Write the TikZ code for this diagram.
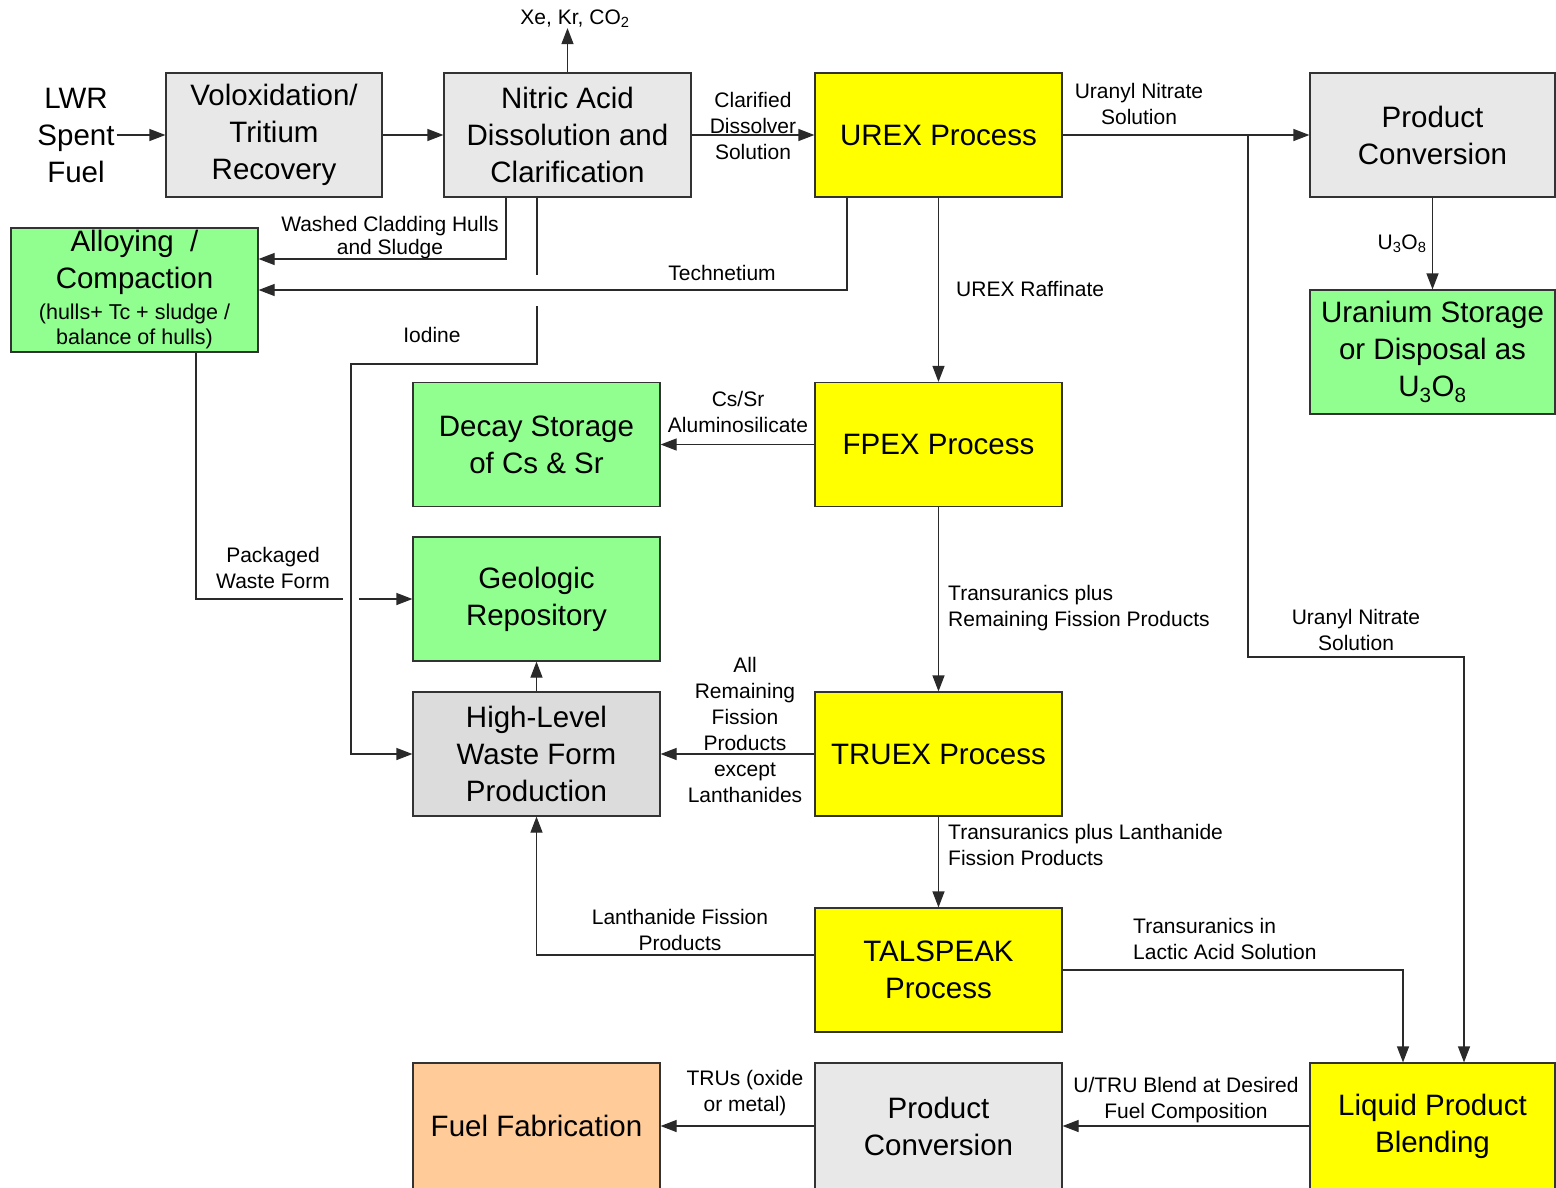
\documentclass[tikz,border=0pt]{standalone}
\usepackage{fontspec}
\setmainfont{Liberation Sans}
\usetikzlibrary{arrows.meta}
\definecolor{boxgray}{HTML}{E8E8E8}
\definecolor{hlwgray}{HTML}{DCDCDC}
\definecolor{boxgreen}{HTML}{90FF90}
\definecolor{boxyellow}{HTML}{FFFF00}
\definecolor{boxorange}{HTML}{FFCC99}
\definecolor{edge}{HTML}{333333}
\definecolor{wire}{HTML}{2A2A2A}
\newcommand{\bigfnt}{\fontsize{29.5}{37}\selectfont}
\newcommand{\lblfnt}{\fontsize{21}{26}\selectfont}
\newcommand{\smfnt}{\fontsize{21.5}{25}\selectfont}
\begin{document}
\begin{tikzpicture}[x=1pt,y=-1pt,
  box/.style={draw=edge, line width=1.2pt, inner sep=0pt, align=center,
    minimum width=247pt, minimum height=124pt, font=\bigfnt},
  graybox/.style={box, fill=boxgray},
  hlwbox/.style={box, fill=hlwgray},
  greenbox/.style={box, fill=boxgreen},
  yellowbox/.style={box, fill=boxyellow},
  orangebox/.style={box, fill=boxorange},
  conn/.style={draw=wire, line width=1.2pt},
  arr/.style={conn, -{Triangle[length=16pt,width=12pt]}},
  lbl/.style={inner sep=0pt, align=center, font=\lblfnt},
  lbll/.style={inner sep=0pt, align=left, font=\lblfnt},
]
\useasboundingbox (0,0) rectangle (1556,1187);
\fill[white] (0,0) rectangle (1556,1187);

% boxes
\node[inner sep=2pt, align=center, font=\bigfnt] (lwr) at (76,135) {LWR\\Spent\\Fuel};
\node[graybox, minimum width=216pt] (volox) at (274,135) {Voloxidation/\\Tritium\\Recovery};
\node[graybox] (nitric) at (567.5,135) {Nitric Acid\\Dissolution and\\Clarification};
\node[yellowbox] (urex) at (938.5,135) {UREX Process};
\node[graybox, minimum width=245pt] (pc1) at (1432.5,135) {Product\\Conversion};
\node[greenbox] (alloy) at (134.5,290) {Alloying~~/\\Compaction\\[-6pt]{\smfnt (hulls+ Tc + sludge /}\\[-12pt]{\smfnt balance of hulls)}};
\node[greenbox, minimum width=245pt] (ustor) at (1432.5,352) {Uranium Storage\\or Disposal as\\U\textsubscript{3}O\textsubscript{8}};
\node[greenbox] (decay) at (536.5,444.5) {Decay Storage\\of Cs \& Sr};
\node[yellowbox] (fpex) at (938.5,444.5) {FPEX Process};
\node[greenbox] (geo) at (536.5,599) {Geologic\\Repository};
\node[hlwbox] (hlw) at (536.5,754) {High-Level\\Waste Form\\Production};
\node[yellowbox] (truex) at (938.5,754) {TRUEX Process};
\node[yellowbox] (tal) at (938.5,970) {TALSPEAK\\Process};
\node[orangebox, minimum height=126pt] (fuel) at (536.5,1126) {Fuel Fabrication};
\node[graybox, minimum height=126pt] (pc2) at (938.5,1126) {Product\\Conversion};
\node[yellowbox, minimum height=126pt, minimum width=245pt] (liq) at (1432.5,1126) {Liquid Product\\Blending};

% labels
\node[lbl] (gas) at (575,19) {Xe, Kr, CO\textsubscript{2}};
\node[lbl] (lclar) at (753,126) {Clarified\\Dissolver\\Solution};
\node[lbl, font=\fontsize{21}{23}\selectfont] (lwash) at (390,238) {Washed Cladding Hulls\\and Sludge};
\node[lbl] (ltech) at (722,273) {Technetium};
\node[lbl] (liod) at (432,335) {Iodine};
\node[lbll, anchor=west] (lraff) at (956,289) {UREX Raffinate};
\node[lbl] (lun1) at (1139,103.5) {Uranyl Nitrate\\Solution};
\node[lbl] (lu3o8) at (1402,244) {U\textsubscript{3}O\textsubscript{8}};
\node[lbl] (lcssr) at (738,412) {Cs/Sr\\Aluminosilicate};
\node[lbll, anchor=west] (ltru1) at (948,608) {Transuranics plus\\Remaining Fission Products};
\node[lbl] (lpack) at (273,567.5) {Packaged\\Waste Form};
\node[lbl] (lun2) at (1356,629.5) {Uranyl Nitrate\\Solution};
\node[lbl] (lall) at (745,730) {All\\Remaining\\Fission\\Products\\except\\Lanthanides};
\node[lbll, anchor=west] (ltru2) at (948,845) {Transuranics plus Lanthanide\\Fission Products};
\node[lbl] (llan) at (680,930) {Lanthanide Fission\\Products};
\node[lbll, anchor=west] (llac) at (1133,938.5) {Transuranics in\\Lactic Acid Solution};
\node[lbl] (lblend) at (1186,1100.5) {U/TRU Blend at Desired\\Fuel Composition};
\node[lbl] (ltrus) at (745,1093) {TRUs (oxide\\or metal)};

% connectors
\draw[arr] (lwr.east |- volox.west) -- (volox.west);
\draw[arr] (volox.east) -- (nitric.west);
\draw[arr] (nitric.north) -- (nitric.north |- gas.south);
\draw[arr] (nitric.east) -- (urex.west);
\draw[arr] ([xshift=-61.5pt]nitric.south) |- ([yshift=31pt]alloy.east);
\draw[conn] ([xshift=-30.5pt]nitric.south) -- ++(0,77);
\coordinate (iod1) at (537,306);
\coordinate (iod2) at (537,364);
\coordinate (iod3) at (351,364);
\draw[arr] (iod1) -- (iod2) -- (iod3) |- (hlw.west);
\draw[arr] ([xshift=-91.5pt]urex.south) |- (alloy.east);
\draw[arr] (urex.south) -- (fpex.north);
\draw[arr] (urex.east) -- (pc1.west);
\coordinate (br) at (1248,135);
\coordinate (br2) at (1248,657);
\draw[arr] (br) -- (br2) -| ([xshift=31.5pt]liq.north);
\draw[arr] (pc1.south) -- (ustor.north);
\draw[arr] (fpex.west) -- (decay.east);
\draw[arr] (fpex.south) -- (truex.north);
\coordinate (pk) at (343,599);
\coordinate (pk2) at (359,599);
\draw[conn] ([xshift=61.5pt]alloy.south) |- (pk);
\draw[arr] (pk2) -- (geo.west);
\draw[arr] (hlw.north) -- (geo.south);
\draw[arr] (truex.west) -- (hlw.east);
\draw[arr] (truex.south) -- (tal.north);
\draw[arr] ([yshift=15pt]tal.west) -| (hlw.south);
\draw[arr] (tal.east) -| ([xshift=-29.5pt]liq.north);
\draw[arr] (liq.west) -- (pc2.east);
\draw[arr] (pc2.west) -- (fuel.east);
\end{tikzpicture}
\end{document}
